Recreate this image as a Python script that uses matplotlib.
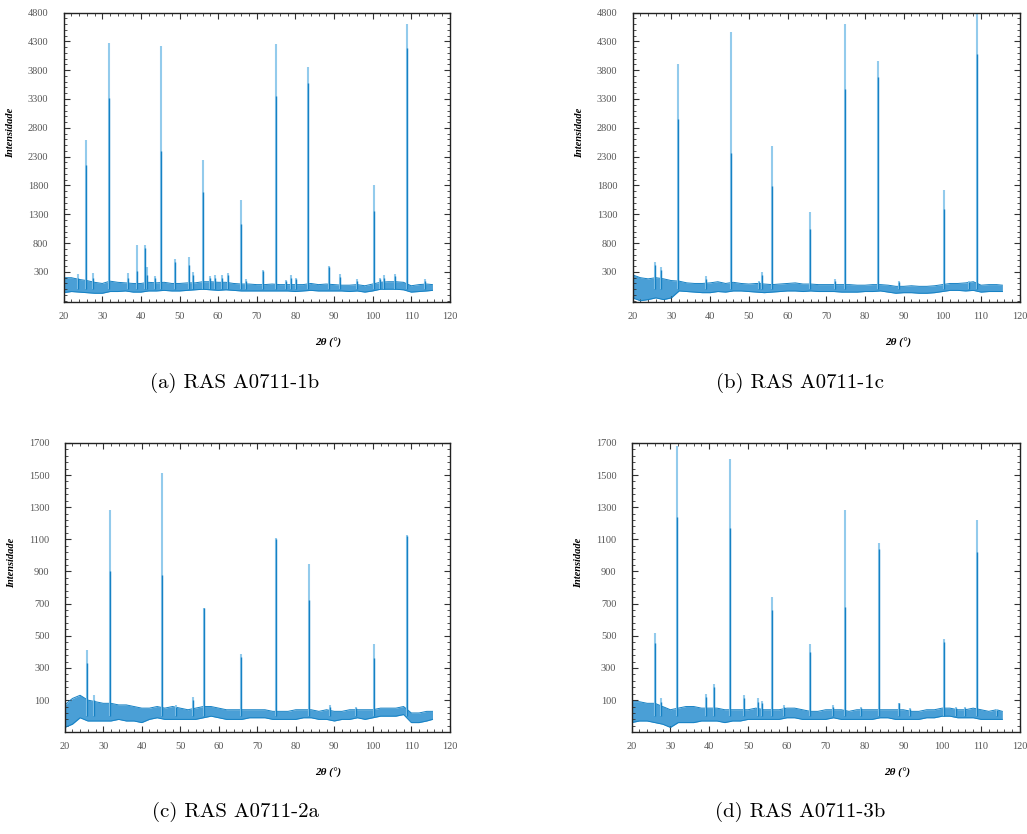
import numpy as np
import matplotlib
matplotlib.use('Agg')
import matplotlib.pyplot as plt
from matplotlib.ticker import MultipleLocator, FixedLocator

# baseline grid (2theta, degrees) and noise envelope of each pattern
base_x = [20, 22, 24, 26, 28, 30, 32, 34, 36, 38, 40, 42, 44, 46, 48, 50, 52, 54, 56, 58,
          60, 62, 64, 66, 68, 70, 72, 74, 76, 78, 80, 82, 84, 86, 88, 90, 92, 94, 96, 98,
          100, 102, 104, 106, 108, 110, 112, 114, 115.5]

lo_a = [-60, -40, -50, -60, -70, -70, -40, -40, -30, -50, -50, -30, -30, -20, -30, -30, -20, -10, 0, -10,
        -20, -10, -20, -30, -30, -30, -30, -30, -30, -30, -40, -30, -20, -30, -30, -30, -30, -40, -30, -50,
        -30, 0, 0, 0, -10, -50, -40, -30, -20]
hi_a = [200, 200, 170, 150, 120, 100, 140, 120, 110, 100, 100, 120, 110, 120, 100, 100, 110, 110, 130, 130,
        120, 120, 100, 90, 90, 80, 80, 90, 80, 80, 80, 80, 100, 80, 90, 80, 70, 70, 80, 60,
        90, 120, 130, 130, 120, 60, 80, 90, 80]

lo_b = [-150, -200, -180, -150, -180, -150, -30, -40, -50, -60, -60, -40, -50, -30, -30, -40, -50, -60, -50, -40,
        -30, -30, -40, -30, -40, -40, -40, -50, -50, -50, -40, -40, -30, -50, -70, -60, -60, -70, -70, -60,
        -40, -20, -20, -30, -20, -50, -40, -40, -40]
hi_b = [250, 200, 180, 200, 180, 150, 140, 110, 100, 100, 110, 130, 100, 120, 100, 90, 100, 90, 80, 90,
        100, 110, 90, 90, 80, 80, 80, 80, 80, 70, 70, 80, 80, 70, 50, 50, 60, 50, 50, 60,
        80, 100, 100, 110, 130, 70, 80, 80, 70]

lo_c = [-70, -50, -10, -30, -30, -30, -30, -20, -30, -30, -40, -20, -10, -20, -20, -20, -20, -20, -10, 0,
        -10, -20, -20, -20, -10, -10, -10, -20, -20, -20, -20, -10, -10, -20, -20, -30, -20, -20, -10, -20,
        -10, 0, 0, 0, 10, -40, -40, -30, -20]
hi_c = [70, 110, 130, 100, 90, 80, 80, 70, 70, 60, 50, 50, 60, 50, 60, 50, 40, 50, 60, 60,
        50, 40, 40, 40, 40, 40, 40, 30, 30, 30, 40, 40, 40, 30, 40, 30, 30, 40, 40, 40,
        40, 50, 50, 50, 60, 20, 20, 30, 30]

lo_d = [-40, -30, -30, -40, -50, -70, -40, -40, -40, -30, -30, -30, -40, -30, -30, -20, -20, -20, -20, -20,
        -10, -10, -20, -20, -20, -20, -10, -20, -20, -20, -20, -20, -10, -10, -20, -20, -20, -20, -10, -10,
        0, 0, -10, -10, -10, -20, -20, -20, -20]
hi_d = [90, 90, 80, 80, 60, 40, 50, 60, 60, 50, 50, 50, 40, 40, 40, 40, 50, 40, 40, 40,
        50, 50, 40, 30, 30, 40, 40, 40, 30, 40, 40, 40, 40, 40, 40, 40, 30, 30, 40, 40,
        50, 50, 40, 40, 50, 40, 30, 40, 30]

# diffraction peaks: position, apex, bright core height
pos_a = [23.6, 25.8, 27.5, 31.7, 36.7, 39.0, 41.1, 41.6, 43.7, 45.3, 48.9, 52.4, 53.4, 56.1, 58.0, 59.3, 61.0, 62.6,
         65.9, 67.3, 71.7, 74.9, 77.5, 78.9, 80.1, 83.4, 88.8, 91.5, 95.9, 100.4, 101.8, 102.9, 105.9, 108.9, 113.5]
top_a = [270, 2580, 280, 4270, 280, 760, 760, 380, 230, 4220, 520, 560, 300, 2250, 230, 250, 240, 280,
         1550, 180, 340, 4250, 160, 240, 200, 3850, 400, 260, 180, 1800, 200, 250, 260, 4600, 180]
core_a = [200, 2150, 200, 3320, 200, 320, 720, 250, 200, 2400, 480, 420, 250, 1680, 200, 200, 200, 250,
          1130, 150, 320, 3350, 150, 200, 180, 3580, 380, 220, 150, 1350, 180, 200, 230, 4180, 150]

pos_b = [25.8, 27.4, 31.7, 39.0, 45.3, 52.6, 53.5, 56.1, 65.8, 72.3, 74.9, 83.4, 88.7, 100.3, 106.8, 108.9]
top_b = [470, 380, 3900, 230, 4470, 150, 300, 2480, 1340, 180, 4600, 3960, 150, 1720, 150, 4800]
core_b = [420, 330, 2950, 180, 2370, 120, 250, 1790, 1050, 150, 3470, 3680, 130, 1390, 130, 4080]

pos_c = [25.9, 27.5, 31.8, 45.3, 48.9, 53.4, 56.2, 65.9, 74.8, 83.4, 88.8, 95.6, 100.4, 108.9]
top_c = [410, 130, 1280, 1510, 70, 120, 675, 385, 1110, 945, 70, 60, 450, 1125]
core_c = [330, 100, 900, 880, 60, 100, 670, 370, 1100, 720, 60, 50, 360, 1120]

pos_d = [25.9, 27.5, 31.8, 39.1, 41.2, 45.3, 49.0, 52.5, 53.5, 56.1, 59.2, 65.9, 71.8, 74.9, 79.0, 83.6,
         88.8, 91.6, 100.4, 103.5, 105.9, 109.0, 114.0]
top_d = [515, 110, 1680, 140, 200, 1600, 130, 110, 95, 740, 70, 450, 70, 1280, 60, 1075,
         85, 50, 480, 60, 60, 1220, 45]
core_d = [455, 90, 1240, 120, 180, 1170, 110, 90, 80, 660, 60, 400, 60, 680, 50, 1040,
          80, 45, 460, 50, 50, 1020, 40]

captions = ['(a) RAS A0711-1b', '(b) RAS A0711-1c', '(c) RAS A0711-2a', '(d) RAS A0711-3b']

dark = '#1581c4'
light = '#93cbec'

fig = plt.figure(figsize=(10.27, 8.34), dpi=100)

panels = [
    ([0.062, 0.638, 0.376, 0.347], lo_a, hi_a, pos_a, top_a, core_a, (-220, 4800), np.arange(300, 4801, 500), 'top'),
    ([0.616, 0.638, 0.377, 0.347], lo_b, hi_b, pos_b, top_b, core_b, (-220, 4800), np.arange(300, 4801, 500), 'top'),
    ([0.063, 0.122, 0.375, 0.347], lo_c, hi_c, pos_c, top_c, core_c, (-100, 1700), np.arange(100, 1701, 200), 'bot'),
    ([0.615, 0.122, 0.378, 0.347], lo_d, hi_d, pos_d, top_d, core_d, (-100, 1700), np.arange(100, 1701, 200), 'bot'),
]

for i, (rect, lo, hi, pos, top, core, ylim, yt, row) in enumerate(panels):
    ax = fig.add_axes(rect)
    # noisy baseline shown as its envelope
    ax.fill_between(base_x, lo, hi, color='#4a9fd6', lw=0)
    ax.plot(base_x, lo, color=dark, lw=0.7)
    ax.plot(base_x, hi, color=dark, lw=0.7)
    ax.vlines(pos, 0, top, color=light, lw=1.5)
    ax.vlines(pos, 0, core, color=dark, lw=1.0)
    ax.set_xlim(20, 120)
    ax.set_ylim(*ylim)
    ax.set_xticks(np.arange(20, 121, 10))
    ax.set_yticks(yt)
    ax.xaxis.set_minor_locator(MultipleLocator(2))
    if row == 'top':
        ax.yaxis.set_minor_locator(MultipleLocator(100))
    else:
        ax.yaxis.set_minor_locator(FixedLocator(np.arange(-100, 1701, 40)))
    ax.tick_params(which='both', direction='in', top=True, right=True, color='#333333')
    ax.tick_params(which='major', length=4, width=0.8)
    ax.tick_params(which='minor', length=2, width=0.6)
    ax.tick_params(axis='y', pad=11)
    ax.tick_params(axis='x', pad=7)
    for lab in ax.get_xticklabels() + ax.get_yticklabels():
        lab.set_fontfamily('Liberation Serif')
        lab.set_fontsize(7.5)
        lab.set_color('#555555')
    for sp in ax.spines.values():
        sp.set_linewidth(1.0)
        sp.set_color('#222222')
    ax.set_ylabel('Intensidade', fontfamily='Liberation Serif', fontsize=7.5,
                  fontweight='bold', fontstyle='italic')
    ax.yaxis.set_label_coords(-0.125, 0.585)
    ax.set_xlabel('2θ (°)', fontfamily='Liberation Serif', fontsize=8,
                  fontweight='bold', fontstyle='italic')
    ax.xaxis.set_label_coords(0.685, -0.124)

caption_xy = [(235, 383), (800, 383), (235, 812), (800, 812)]
for cap, (cx, cy) in zip(captions, caption_xy):
    fig.text(cx / 1027, 1 - cy / 834, cap, ha='center', va='center',
             fontfamily='cmr10', fontsize=15)

fig.savefig('out.png', dpi=100)
